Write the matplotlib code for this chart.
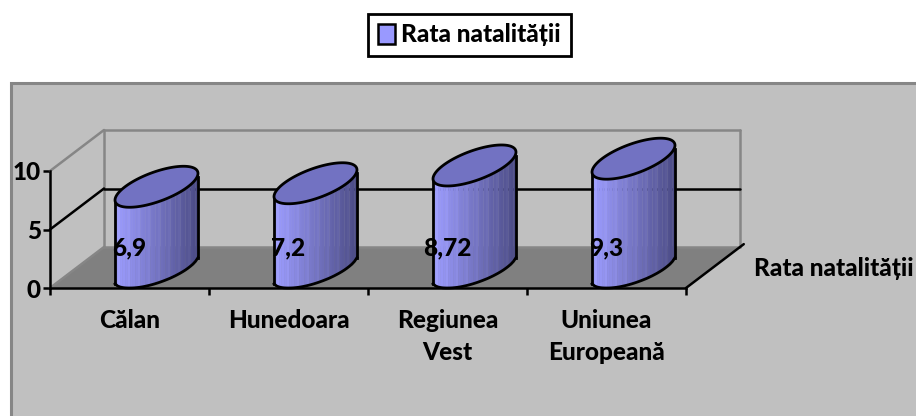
import numpy as np
import matplotlib
matplotlib.use("Agg")
import matplotlib.pyplot as plt
from matplotlib.patches import Patch, Polygon, Rectangle

categories = ["Călan", "Hunedoara", "Regiunea\nVest", "Uniunea\nEuropeană"]
values = [6.9, 7.2, 8.72, 9.3]
value_labels = ["6,9", "7,2", "8,72", "9,3"]
series_name = "Rata natalității"
y_ticks = [0, 5, 10]

W, H = 916, 416
FONT = "Lato"
FW = "black"
FS = 17.6
fig = plt.figure(figsize=(W / 100, H / 100), dpi=100, facecolor="white")

# Chart area (grey panel)
fig.add_artist(Rectangle((11 / W, -0.05), 1.1, (H - 83) / H + 0.05, transform=fig.transFigure,
                         fc="#c0c0c0", ec="#868686", lw=2.2, zorder=-5))

# Axes = front plane of the 3D box
L, R, T, B = 50, 686, 171, 288
ax = fig.add_axes([L / W, 1 - B / H, (R - L) / W, (B - T) / H], facecolor="none")
ax.set_xlim(0, 4)
ax.set_ylim(0, 10)
DX = 54 / ((R - L) / 4)   # depth offset in x data units
DY = 41 / ((B - T) / 10)  # depth offset in y data units


def proj(x, d, v):
    return x + d * DX, v + d * DY


def poly(points, **kw):
    ax.add_patch(Polygon(points, closed=True, clip_on=False, **kw))


def line(p, q, **kw):
    ax.plot([p[0], q[0]], [p[1], q[1]], clip_on=False, solid_capstyle="round", **kw)


GREY = "#868686"
# Floor
poly([proj(0, 0, 0), proj(4, 0, 0), proj(4, 1, 0), proj(0, 1, 0)], fc="#808080", ec="none", zorder=1)
# Walls
for p, q in [(proj(0, 0, 10), proj(0, 1, 10)), (proj(0, 1, 10), proj(4, 1, 10)),
             (proj(0, 1, 0), proj(0, 1, 10)), (proj(4, 1, 0), proj(4, 1, 10)),
             (proj(0, 1, 0), proj(4, 1, 0)), (proj(0, 0, 0), proj(0, 1, 0))]:
    line(p, q, color=GREY, lw=1.8, zorder=2)
# Gridline at 5
line(proj(0, 0, 5), proj(0, 1, 5), color="black", lw=1.8, zorder=2)
line(proj(0, 1, 5), proj(4, 1, 5), color="black", lw=1.8, zorder=2)
# Depth axis
line(proj(4, 0, 0), proj(4, 1.07, 0), color="black", lw=1.8, zorder=2)

# Cylinders
RX, RD = 0.198, 0.5
t = np.linspace(0, 2 * np.pi, 1441)
C_LEFT = np.array([0x9c, 0x9c, 0xff]) / 255
C_RIGHT = np.array([0x4c, 0x4c, 0x86]) / 255
for i, v in enumerate(values):
    cx = i + 0.5
    ex = cx + 0.5 * DX + RX * np.cos(t) + RD * np.sin(t) * DX
    ey = 0.5 * DY + RD * np.sin(t) * DY
    xs = np.linspace(ex.min(), ex.max(), 34)
    low = np.array([ey[np.abs(ex - xv) < 0.006].min() for xv in xs])
    for k in range(len(xs) - 1):
        f = k / (len(xs) - 2)
        c = C_LEFT * (1 - f) + C_RIGHT * f
        if k % 4 == 1:
            c = np.clip(c + 0.025, 0, 1)
        poly([(xs[k], low[k]), (xs[k + 1] + 0.002, low[k + 1]),
              (xs[k + 1] + 0.002, low[k + 1] + v), (xs[k], low[k] + v)],
             fc=c, ec="none", zorder=3)
    ax.plot(xs, low, color="black", lw=2, clip_on=False, zorder=4)
    for xv, lv in ((xs[0], low[0]), (xs[-1], low[-1])):
        ax.plot([xv, xv], [lv, lv + v], color="black", lw=2, clip_on=False, zorder=4)
    poly(np.column_stack([ex, ey + v]), fc="#7272c2", ec="black", lw=2, zorder=5)
    ax.text(cx, 3.4, value_labels[i], ha="center", va="center",
            fontfamily=FONT, fontweight=FW, fontsize=FS, color="black", zorder=6, clip_on=False)

# Spines and ticks: real axes
for s in ("top", "right"):
    ax.spines[s].set_visible(False)
for s in ("left", "bottom"):
    ax.spines[s].set_linewidth(1.8)
    ax.spines[s].set_zorder(4)
ax.set_yticks(y_ticks)
ax.set_xticks(range(5))
ax.set_xticklabels([])
ax.set_xticks(np.arange(4) + 0.5, minor=True)
ax.set_xticklabels(categories, minor=True, linespacing=1.47, va="top")
ax.tick_params(axis="both", which="major", length=5, width=1.8, pad=1.5)
ax.tick_params(axis="x", which="minor", length=0, pad=15)
for lab in ax.get_yticklabels() + ax.get_xticklabels(minor=True):
    lab.set_fontfamily(FONT)
    lab.set_fontweight(FW)
    lab.set_fontsize(FS)

# Depth axis label
fig.text(834 / W, 1 - 269 / H, series_name, ha="center", va="center", fontfamily=FONT,
         fontweight=FW, fontsize=FS)

# Legend
leg = fig.legend(handles=[Patch(fc="#9999ff", ec="black", lw=1.8, label=series_name)],
                 loc="center", bbox_to_anchor=(469.5 / W, 1 - 35 / H), frameon=True, fancybox=False,
                 edgecolor="black", facecolor="white", handlelength=0.7, handleheight=0.85,
                 handletextpad=0.25, borderpad=0.4,
                 prop={"family": FONT, "weight": FW, "size": FS})
leg.get_frame().set_linewidth(2)
leg.get_frame().set_alpha(1)

fig.savefig("out.png", dpi=100, facecolor="white")
